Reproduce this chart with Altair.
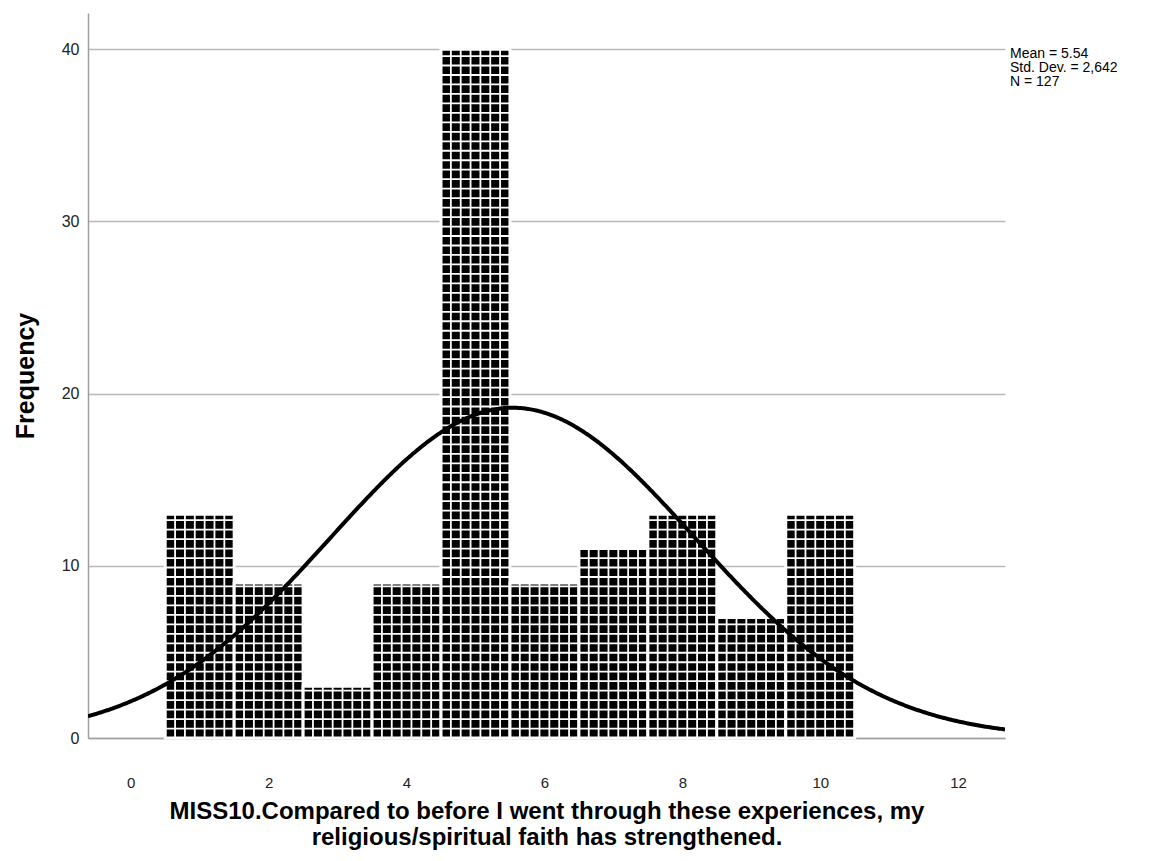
import altair as alt
import pandas as pd

# ---- data ----
bins = [1, 2, 3, 4, 5, 6, 7, 8, 9, 10]
counts = [13, 9, 3, 9, 40, 9, 11, 13, 7, 13]
mean_val = 5.54
sd_val = 2.642
n_val = 127
bin_width = 1.0
stats_lines = ["Mean = 5.54", "Std. Dev. = 2,642", "N = 127"]
x_ticks = [0, 2, 4, 6, 8, 10, 12]
y_ticks = [0, 10, 20, 30, 40]
x_title = ["MISS10.Compared to before I went through these experiences, my",
           "religious/spiritual faith has strengthened."]
y_title = "Frequency"

FONT = "Liberation Sans Narrow, Arial Narrow, Liberation Sans, Arial, sans-serif"

bars = pd.DataFrame({
    "bin": bins,
    "count": counts,
})
bars["left"] = bars["bin"] - bin_width / 2
bars["right"] = bars["bin"] + bin_width / 2

# white grid pattern inside the bars (derived from the bar data)
n_cols = 7
row_step = 0.55
vlines, hlines = [], []
for b, c in zip(bins, counts):
    left = b - bin_width / 2
    for k in range(1, n_cols):
        vlines.append({"x": left + k * bin_width / n_cols, "y": 0, "y2": c})
    j = 1
    while j * row_step < c - 0.15:
        hlines.append({"y": j * row_step, "x": left, "x2": left + bin_width})
        j += 1
vdf = pd.DataFrame(vlines)
hdf = pd.DataFrame(hlines)

x_dom = [-0.62, 12.68]
y_dom = [0, 42.1]
xs = alt.Scale(domain=x_dom, nice=False, zero=False)
ys = alt.Scale(domain=y_dom, nice=False)

x_axis = alt.Axis(values=x_ticks, format="d", title=x_title, grid=False, ticks=False,
                  labelPadding=37, labelFontSize=15, labelColor="#222222",
                  labelFont=FONT, titleFont=FONT, titleFontSize=24,
                  titleFontWeight="bold", titleColor="#000000", titlePadding=9,
                  titleLineHeight=26, domainColor="#a0a0a0", domainWidth=1.5)
y_axis = alt.Axis(values=y_ticks, format="d", title=y_title, grid=True, gridColor="#b8b8b8",
                  gridWidth=1.5, ticks=False, labelPadding=9, labelFontSize=16,
                  labelColor="#222222", labelFont=FONT, titleFont=FONT,
                  titleFontSize=25, titleFontWeight="bold", titleColor="#000000",
                  titlePadding=23, domainColor="#a0a0a0", domainWidth=1.5)

bar_layer = alt.Chart(bars).mark_bar(color="#000000", stroke="#ffffff",
                                     strokeWidth=3).encode(
    x=alt.X("left:Q", scale=xs, axis=x_axis),
    x2="right:Q",
    y=alt.Y("count:Q", scale=ys, axis=y_axis),
    y2=alt.datum(0),
)

v_layer = alt.Chart(vdf).mark_rule(color="#ffffff", strokeWidth=1.8).encode(
    x=alt.X("x:Q", scale=xs), y=alt.Y("y:Q", scale=ys), y2="y2:Q")
h_layer = alt.Chart(hdf).mark_rule(color="#ffffff", strokeWidth=1.8).encode(
    y=alt.Y("y:Q", scale=ys), x=alt.X("x:Q", scale=xs), x2="x2:Q")

curve = alt.Chart(alt.sequence(x_dom[0], x_dom[1] + 0.02, 0.02, as_="xv")).transform_calculate(
    dens=f"{n_val}*{bin_width}/({sd_val}*sqrt(2*PI))*exp(-0.5*pow((datum.xv-{mean_val})/{sd_val},2))"
).mark_line(color="#000000", strokeWidth=4, clip=True).encode(
    x=alt.X("xv:Q", scale=xs), y=alt.Y("dens:Q", scale=ys))

stats = alt.Chart(alt.Data(values=[{}])).mark_text(
    text=stats_lines, align="left", baseline="top", font=FONT, fontSize=14,
    lineHeight=14, color="#000000").encode(x=alt.value(922), y=alt.value(34))

chart = alt.layer(bar_layer, v_layer, h_layer, curve, stats).properties(
    width=917, height=725, background="#ffffff"
).configure_view(stroke=None)

chart.save("out.html", embed_options={"renderer": "svg", "actions": False})
